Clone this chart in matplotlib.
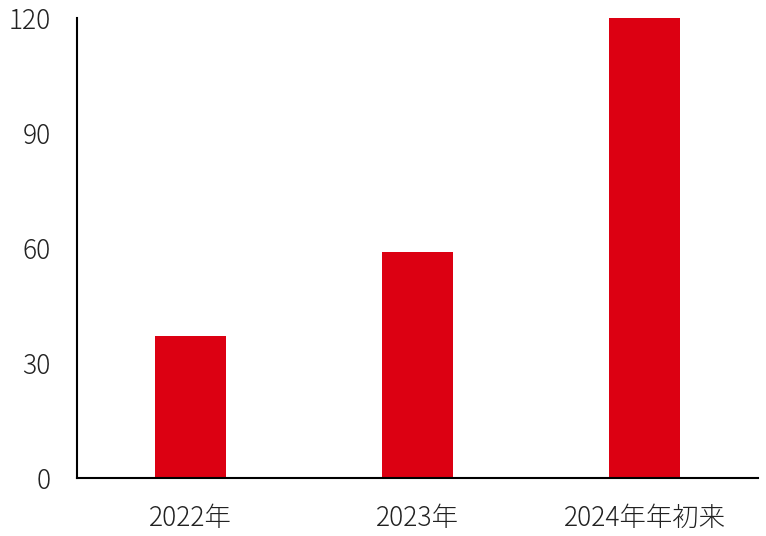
import matplotlib
matplotlib.use("Agg")
import matplotlib.pyplot as plt

plt.rcParams['font.family'] = ['Noto Sans CJK JP', 'DejaVu Sans']

# data
categories = ['2022年', '2023年', '2024年年初来']
values = [37, 59, 120]
yticks = [0, 30, 60, 90, 120]

fig = plt.figure(figsize=(7.66, 5.36), dpi=100)
ax = fig.add_axes([77 / 766, 58 / 536, 681 / 766, 460 / 536])

ax.bar(range(len(categories)), values, width=0.31, color='#DC0012')

ax.set_xlim(-0.5, 2.5)
ax.set_ylim(0, 120)
ax.set_yticks(yticks)
ax.set_xticks(range(len(categories)))
ax.set_xticklabels(categories)

ax.tick_params(axis='y', length=0, pad=19, labelsize=19, labelcolor='#222222')
ax.tick_params(axis='x', length=0, pad=19, labelsize=19, labelcolor='#222222')
for lbl in ax.get_xticklabels() + ax.get_yticklabels():
    lbl.set_fontweight('light')

for s in ['top', 'right']:
    ax.spines[s].set_visible(False)
ax.spines['left'].set_linewidth(1.5)
ax.spines['bottom'].set_linewidth(1.5)

fig.savefig('out.png', dpi=100)
